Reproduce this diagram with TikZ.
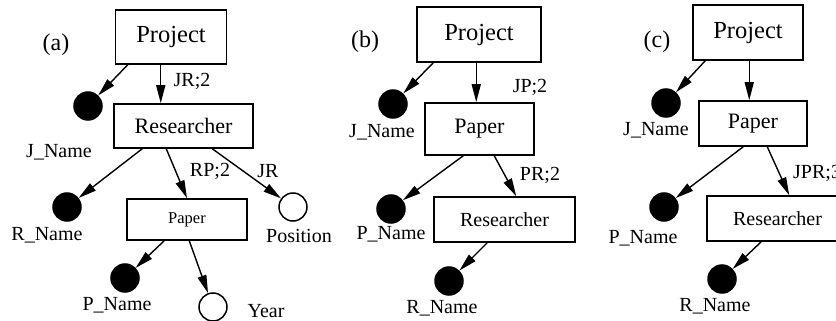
\documentclass[tikz,border=0pt]{standalone}
\usepackage{fontspec}
\setmainfont{Liberation Serif}
\newfontfamily\diagfont{Liberation Serif}
\usetikzlibrary{arrows.meta}
\tikzset{
  ent/.style={draw, line width=1.5pt, inner sep=0pt},
  bigf/.style={font=\diagfont\fontsize{24.5}{26}\selectfont},
  midf/.style={font=\diagfont\fontsize{22}{24}\selectfont},
  lowf/.style={font=\diagfont\fontsize{20}{22}\selectfont},
  smlf/.style={font=\diagfont\fontsize{16.5}{18}\selectfont},
  attr/.style={circle, draw, line width=1.5pt, minimum size=28pt, inner sep=0pt},
  keyat/.style={attr, fill=black},
  optat/.style={attr, fill=white},
  edge/.style={line width=1.4pt, -{Triangle[length=18pt,width=9pt]}},
  lab/.style={font=\diagfont\fontsize{20}{22}\selectfont, inner sep=0pt},
  tag/.style={font=\diagfont\fontsize{24}{26}\selectfont, inner sep=0pt},
}

\begin{document}
\begin{tikzpicture}[x=1pt,y=-1pt]
  \useasboundingbox (0,0) rectangle (836,321);

  % (a)
  \node[tag] (taga) at (56,45) {(a)};
  \node[ent, bigf, minimum width=111pt, minimum height=54pt] (proja) at (171,37) {Project};
  \node[ent, midf, minimum width=139pt, minimum height=44pt] (resa) at (183.5,126) {Researcher};
  \node[ent, smlf, minimum width=120pt, minimum height=41pt] (papa) at (187,219.5) {Paper};
  \node[keyat] (jna) at (88,106) {};
  \node[keyat] (rna) at (67,207) {};
  \node[optat] (posa) at (293,207) {};
  \node[keyat] (pna) at (125,278) {};
  \node[optat] (yeara) at (213,307) {};
  \node[lab] (ljra) at (192,81) {JR;2};
  \node[lab] (ljna) at (59,152) {J\_Name};
  \node[lab] (lrpa) at (210,171) {RP;2};
  \node[lab] (ljr) at (268,171) {JR};
  \node[lab] (lrna) at (47,235) {R\_Name};
  \node[lab] (lposa) at (299,236) {Position};
  \node[lab] (lpna) at (117,305) {P\_Name};
  \node[lab] (lyeara) at (266,311) {Year};
  \draw[edge] ([xshift=13pt]proja.south west) -- (jna);
  \draw[edge] ([xshift=46pt]proja.south west) -- ([xshift=46pt]proja.south west |- resa.north);
  \draw[edge] ([xshift=29pt]resa.south west) -- (rna);
  \draw[edge] ([xshift=53pt]resa.south west) -- (papa.north);
  \draw[edge] ([xshift=99pt]resa.south west) -- (posa);
  \draw[edge] ([xshift=38pt]papa.south west) -- (pna);
  \draw[edge] ([xshift=63pt]papa.south west) -- (yeara);

  % (b)
  \node[tag] (tagb) at (365,42) {(b)};
  \node[ent, bigf, minimum width=124pt, minimum height=55pt] (projb) at (479,34.5) {Project};
  \node[ent, midf, minimum width=109pt, minimum height=52pt] (papb) at (479.5,129) {Paper};
  \node[ent, lowf, minimum width=141pt, minimum height=45pt] (resb) at (504.5,219.5) {Researcher};
  \node[keyat] (jnb) at (393,104) {};
  \node[keyat] (pnb) at (391,209) {};
  \node[keyat] (rnb) at (449,281) {};
  \node[lab] (ljpb) at (530,87) {JP;2};
  \node[lab] (ljnb) at (382,132) {J\_Name};
  \node[lab] (lprb) at (540,175) {PR;2};
  \node[lab] (lpnb) at (391,234) {P\_Name};
  \node[lab] (lrnb) at (442,308) {R\_Name};
  \draw[edge] ([xshift=17pt]projb.south west) -- (jnb);
  \draw[edge] ([xshift=60pt]projb.south west) -- ([xshift=60pt]projb.south west |- papb.north);
  \draw[edge] ([xshift=39pt]papb.south west) -- (pnb);
  \draw[edge] ([xshift=70pt]papb.south west) -- ([xshift=83pt]resb.north west);
  \draw[edge] ([xshift=54pt]resb.south west) -- (rnb);

  % (c)
  \node[tag] (tagc) at (657,42) {(c)};
  \node[ent, bigf, minimum width=110pt, minimum height=55pt] (projc) at (748,32.5) {Project};
  \node[ent, midf, minimum width=108pt, minimum height=45pt] (papc) at (753,123.5) {Paper};
  \node[ent, lowf, minimum width=141pt, minimum height=45pt] (resc) at (777.5,218.5) {Researcher};
  \node[keyat] (jnc) at (666,103) {};
  \node[keyat] (pnc) at (664,207) {};
  \node[keyat] (rnc) at (722,279) {};
  \node[lab] (ljnc) at (656,130) {J\_Name};
  \node[lab, anchor=west] (ljprc) at (793,173) {JPR;3};
  \node[lab] (lpnc) at (643,238) {P\_Name};
  \node[lab] (lrnc) at (715,306) {R\_Name};
  \draw[edge] ([xshift=13pt]projc.south west) -- (jnc);
  \draw[edge] ([xshift=57pt]projc.south west) -- ([xshift=57pt]projc.south west |- papc.north);
  \draw[edge] ([xshift=45pt]papc.south west) -- (pnc);
  \draw[edge] ([xshift=69pt]papc.south west) -- ([xshift=83pt]resc.north west);
  \draw[edge] ([xshift=55pt]resc.south west) -- (rnc);
\end{tikzpicture}
\end{document}
